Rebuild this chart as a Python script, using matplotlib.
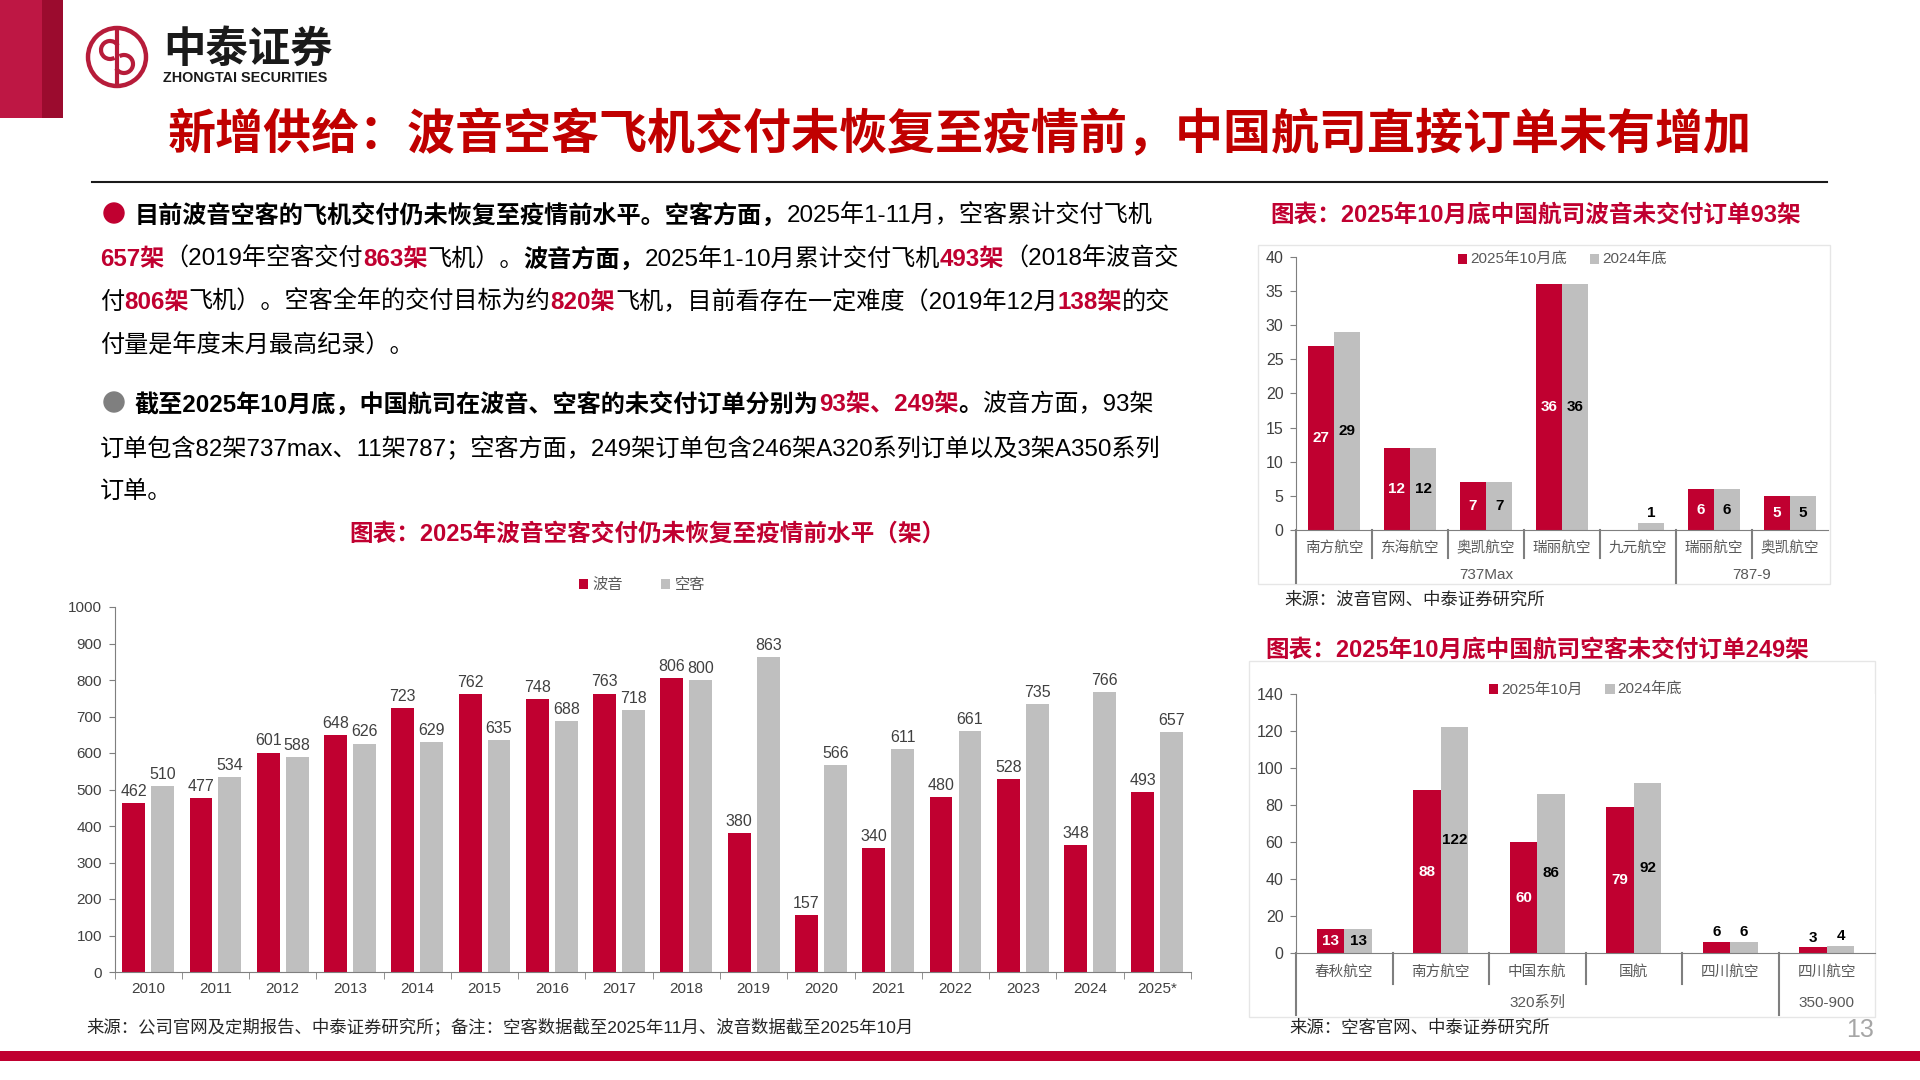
import numpy as np
import matplotlib.pyplot as plt
from matplotlib.patches import Rectangle, Circle, Arc

plt.rcParams['font.family'] = ['Liberation Sans', 'Noto Sans CJK SC']

RED = '#C00030'
GRAY = '#BFBFBF'
TXT = '#404040'

# chart 1: annual deliveries
years = ['2010', '2011', '2012', '2013', '2014', '2015', '2016', '2017',
         '2018', '2019', '2020', '2021', '2022', '2023', '2024', '2025*']
boeing = [462, 477, 601, 648, 723, 762, 748, 763, 806, 380, 157, 340, 480, 528, 348, 493]
airbus = [510, 534, 588, 626, 629, 635, 688, 718, 800, 863, 566, 611, 661, 735, 766, 657]

# chart 2: Boeing backlog of Chinese airlines
b_cats = ['南方航空', '东海航空', '奥凯航空', '瑞丽航空', '九元航空', '瑞丽航空', '奥凯航空']
b_now = [27, 12, 7, 36, 0, 6, 5]
b_prev = [29, 12, 7, 36, 1, 6, 5]
b_groups = [('737Max', 0, 5), ('787-9', 5, 7)]

# chart 3: Airbus backlog of Chinese airlines
a_cats = ['春秋航空', '南方航空', '中国东航', '国航', '四川航空', '四川航空']
a_now = [13, 88, 60, 79, 6, 3]
a_prev = [13, 122, 86, 92, 6, 4]
a_groups = [('320系列', 0, 5), ('350-900', 5, 6)]

W, H = 1920, 1080
fig = plt.figure(figsize=(19.2, 10.8), dpi=100)
bg = fig.add_axes([0, 0, 1, 1])
bg.set_xlim(0, W)
bg.set_ylim(H, 0)
bg.axis('off')
renderer = fig.canvas.get_renderer()


def px_axes(l, t, r, b):
    return fig.add_axes([l / W, 1 - b / H, (r - l) / W, (b - t) / H])


# header
bg.add_patch(Rectangle((0, 0), 42, 118, color='#BE1744', lw=0))
bg.add_patch(Rectangle((42, 0), 21, 118, color='#9B0B2E', lw=0))
bg.add_patch(Circle((117, 57), 29, fill=False, ec='#B71C3A', lw=3.2))
bg.add_patch(Arc((110, 50), 18, 18, theta1=60, theta2=330, ec='#B71C3A', lw=3))
bg.add_patch(Arc((124, 64), 18, 18, theta1=240, theta2=150, ec='#B71C3A', lw=3))
bg.plot([117, 117], [30, 84], color='#B71C3A', lw=3)
bg.text(163, 50, '中泰证券', fontsize=30.5, fontweight='bold', color='#1A1A1A', va='center')
bg.text(163, 78, 'ZHONGTAI SECURITIES', fontsize=10.4, fontweight='bold', color='#1A1A1A', va='center')

bg.text(960, 135, '新增供给：波音空客飞机交付未恢复至疫情前，中国航司直接订单未有增加',
        fontsize=34.6, fontweight='bold', color='#C00000', ha='center', va='center')
bg.plot([92, 1827], [182, 182], color='#1A1A1A', lw=1.5)


def runs(x, y, parts, size=17.4):
    for s, bold, color in parts:
        t = bg.text(x, y, s, fontsize=size, fontweight='bold' if bold else 'normal',
                    color=color, va='center_baseline', ha='left')
        x += t.get_window_extent(renderer).width


K = '#000000'
bg.add_patch(Circle((114, 213), 10, color=RED))
runs(135, 213, [('目前波音空客的飞机交付仍未恢复至疫情前水平。空客方面，', True, K),
                ('2025年1-11月，空客累计交付飞机', False, K)])
runs(100, 257, [('657架', True, RED), ('（2019年空客交付', False, K), ('863架', True, RED),
                ('飞机）。', False, K), ('波音方面，', True, K), ('2025年1-10月累计交付飞机', False, K),
                ('493架', True, RED), ('（2018年波音交', False, K)])
runs(100, 300, [('付', False, K), ('806架', True, RED), ('飞机）。空客全年的交付目标为约', False, K),
                ('820架', True, RED), ('飞机，目前看存在一定难度（2019年12月', False, K),
                ('138架', True, RED), ('的交', False, K)])
runs(100, 343, [('付量是年度末月最高纪录）。', False, K)])

bg.add_patch(Circle((114, 402), 10, color='#7F7F7F'))
runs(135, 402, [('截至2025年10月底，中国航司在波音、空客的未交付订单分别为', True, K),
                ('93架、249架', True, RED), ('。', True, K), ('波音方面，93架', False, K)])
runs(100, 446, [('订单包含82架737max、11架787；空客方面，249架订单包含246架A320系列订单以及3架A350系列', False, K)])
runs(100, 489, [('订单。', False, K)])

# chart 1
bg.text(647, 534, '图表：2025年波音空客交付仍未恢复至疫情前水平（架）', fontsize=17,
        fontweight='bold', color=RED, ha='center', va='center')
ax1 = px_axes(114.5, 607, 1191, 972)
x = np.arange(len(years))
bw, off = 0.34, 0.215
r1 = ax1.bar(x - off, boeing, bw, color=RED, label='波音')
r2 = ax1.bar(x + off, airbus, bw, color=GRAY, label='空客')
for rects, vals in ((r1, boeing), (r2, airbus)):
    for rc, v in zip(rects, vals):
        ax1.annotate(str(v), (rc.get_x() + rc.get_width() / 2, v), xytext=(0, 3),
                     textcoords='offset points', ha='center', va='bottom', fontsize=11.5, color=TXT)
ax1.set_xlim(-0.5, len(years) - 0.5)
ax1.set_ylim(0, 1000)
ax1.set_yticks(np.arange(0, 1001, 100))
ax1.set_xticks(x)
ax1.set_xticklabels(years)
ax1.set_xticks(np.arange(-0.5, len(years), 1), minor=True)
ax1.tick_params(axis='x', which='major', length=0, pad=7, labelsize=11, labelcolor=TXT)
ax1.tick_params(axis='x', which='minor', length=5, color='#7F7F7F')
ax1.tick_params(axis='y', length=4, color='#7F7F7F', pad=5, labelsize=11, labelcolor=TXT)
for s in ('top', 'right'):
    ax1.spines[s].set_visible(False)
for s in ('left', 'bottom'):
    ax1.spines[s].set_color('#7F7F7F')
ax1.legend(loc='center', bbox_to_anchor=(0.49, 1.06), ncol=2, frameon=False, fontsize=11,
           handlelength=0.6, handleheight=0.6, handletextpad=0.3, columnspacing=2.5,
           labelcolor='#595959')
bg.text(86, 1026, '来源：公司官网及定期报告、中泰证券研究所；备注：空客数据截至2025年11月、波音数据截至2025年10月',
        fontsize=12.5, color='#262626', va='center')


def orders(box, frame, title, tpos, src, spos, cats, now, prev, groups, labels,
           ymax, ystep, bw, inside_min, short, long_, cat_dy, grp_dy, leg_y):
    l, t, r, b = box
    bg.add_patch(Rectangle((frame[0], frame[1]), frame[2] - frame[0], frame[3] - frame[1],
                           fill=False, ec='#E6E6E6', lw=1))
    bg.text(tpos[0], tpos[1], title, fontsize=17, fontweight='bold', color=RED, va='center')
    bg.text(spos[0], spos[1], src, fontsize=12.5, color='#262626', va='center')
    ax = px_axes(l, t, r, b)
    hpx = b - t
    xs = np.arange(len(cats))
    ra = ax.bar(xs - bw / 2, now, bw, color=RED, label=labels[0])
    rb = ax.bar(xs + bw / 2, prev, bw, color=GRAY, label=labels[1])
    for rects, vals, ic in ((ra, now, 'white'), (rb, prev, 'black')):
        for rc, v in zip(rects, vals):
            if v == 0:
                continue
            cx = rc.get_x() + rc.get_width() / 2
            if v >= inside_min:
                ax.text(cx, v / 2, str(v), ha='center', va='center', fontsize=11,
                        fontweight='bold', color=ic)
            else:
                ax.annotate(str(v), (cx, v), xytext=(0, 2), textcoords='offset points',
                            ha='center', va='bottom', fontsize=11, fontweight='bold', color='black')
    ax.set_xlim(-0.5, len(cats) - 0.5)
    ax.set_ylim(0, ymax)
    ax.set_yticks(np.arange(0, ymax + 1, ystep))
    ax.set_xticks([])
    ax.tick_params(axis='y', length=4, color='#7F7F7F', pad=5, labelsize=11.5, labelcolor=TXT)
    for s in ('top', 'right'):
        ax.spines[s].set_visible(False)
    for s in ('left', 'bottom'):
        ax.spines[s].set_color('#7F7F7F')
    tr = ax.get_xaxis_transform()
    gb = {g[1] - 0.5 for g in groups}
    for i in range(len(cats)):
        bx = i - 0.5
        ln = long_ if bx in gb else short
        ax.plot([bx, bx], [0, -ln / hpx], transform=tr, clip_on=False, color='#7F7F7F', lw=1.5)
        ax.text(i, -cat_dy / hpx, cats[i], transform=tr, ha='center', va='center',
                fontsize=10.5, color='#595959')
    for name, s, e in groups:
        ax.text((s + e - 1) / 2, -grp_dy / hpx, name, transform=tr, ha='center', va='center',
                fontsize=11, color='#595959')
    ax.legend(loc='center', bbox_to_anchor=(0.5, 1 + leg_y / hpx), ncol=2, frameon=False,
              fontsize=11, handlelength=0.6, handleheight=0.6, handletextpad=0.2,
              columnspacing=1.5, labelcolor='#595959')
    return ax


orders((1296, 256.7, 1828, 530), (1258, 245, 1830, 584),
       '图表：2025年10月底中国航司波音未交付订单93架', (1270, 215),
       '来源：波音官网、中泰证券研究所', (1284, 600),
       b_cats, b_now, b_prev, b_groups, ('2025年10月底', '2024年底'),
       40, 5, 0.347, 5, 28, 53, 18, 45, -(260 - 256.7))

orders((1296, 694, 1875, 953), (1249, 661, 1875, 1017),
       '图表：2025年10月底中国航司空客未交付订单249架', (1265, 650),
       '来源：空客官网、中泰证券研究所', (1289, 1028),
       a_cats, a_now, a_prev, a_groups, ('2025年10月', '2024年底'),
       140, 20, 0.285, 10, 31, 62, 19, 50, -(690 - 694))

# footer
bg.add_patch(Rectangle((0, 1051), W, 10, color=RED, lw=0))
bg.text(1860, 1030, '13', fontsize=18, color='#A6A6A6', ha='center', va='center')

fig.savefig('out.png', dpi=100)
